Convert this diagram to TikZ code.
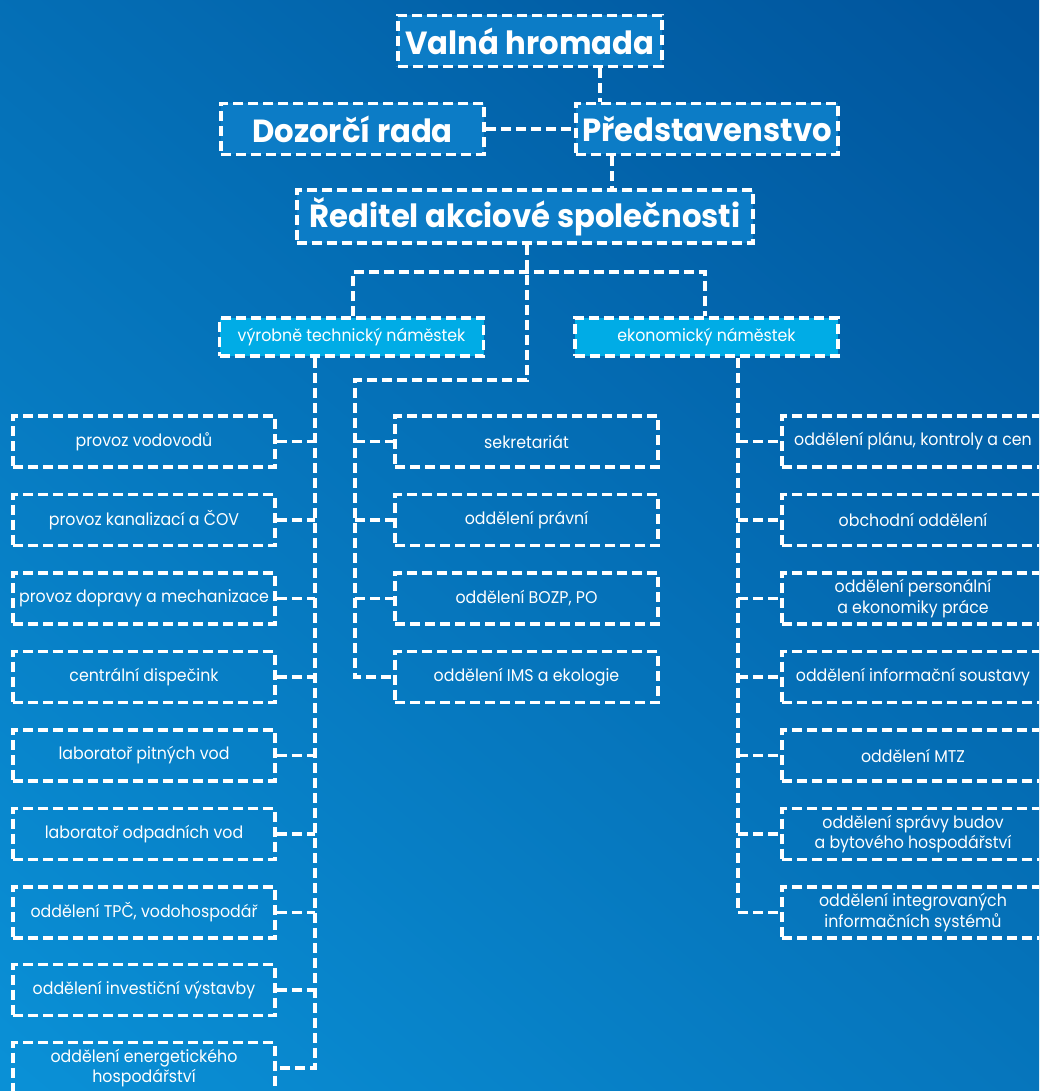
\documentclass[tikz,border=0pt]{standalone}
\usepackage{fontspec}
\setmainfont{Poppins}
\newfontfamily\smallfam{Poppins}[FakeStretch=0.93]
\newfontfamily\bigfam{Poppins}[FakeStretch=0.96]
\usetikzlibrary{calc}
\definecolor{bgtop}{RGB}{0,84,156}
\definecolor{bgbot}{RGB}{10,144,214}
\definecolor{topfill}{RGB}{12,124,198}
\definecolor{cyanfill}{RGB}{0,172,230}
\tikzset{
  dline/.style={draw=white, line width=3.8pt, dash pattern=on 10pt off 5pt},
  bigbox/.style={dline, fill=topfill, text=white, font=\bigfam\fontsize{32}{36}\selectfont\bfseries, inner sep=0pt, minimum height=51pt},
  depbox/.style={dline, fill=cyanfill, text=white, font=\smallfam\fontsize{17}{20}\selectfont, inner sep=0pt, minimum width=264pt, minimum height=38pt},
  unitbox/.style={dline, text=white, font=\smallfam\fontsize{17}{20.5}\selectfont, align=center, inner sep=0pt, minimum width=262pt, minimum height=51pt},
  conn/.style={dline}
}
\begin{document}
\begin{tikzpicture}[x=1pt,y=-1pt]
\useasboundingbox (0,0) rectangle (1039,1091);
\clip (0,0) rectangle (1039,1091);
\shade[top color=bgtop, bottom color=bgbot, shading angle=-40] (-200,-200) rectangle (1239,1291);

% top level
\node[bigbox, minimum width=264pt] (valna) at (530,41) {Valná hromada};
\node[bigbox, minimum width=263pt] (dozorci) at (352.5,129) {Dozorčí rada};
\node[bigbox, minimum width=262pt] (pred) at (707,129) {Představenstvo};
\node[bigbox, minimum width=456pt, minimum height=53pt] (reditel) at (525,216.5) {Ředitel akciové společnosti};

% deputies
\node[depbox] (vyr) at (351.5,337) {výrobně technický náměstek};
\node[depbox, minimum width=263pt] (eko) at (706.5,337) {ekonomický náměstek};

% left column
\node[unitbox] (l1) at (144,441.5) {provoz vodovodů};
\node[unitbox] (l2) at (144,520) {provoz kanalizací a ČOV};
\node[unitbox] (l3) at (144,598.5) {provoz dopravy a mechanizace};
\node[unitbox] (l4) at (144,677) {centrální dispečink};
\node[unitbox] (l5) at (144,755.5) {laboratoř pitných vod};
\node[unitbox] (l6) at (144,834) {laboratoř odpadních vod};
\node[unitbox] (l7) at (144,912.5) {oddělení TPČ, vodohospodář};
\node[unitbox] (l8) at (144,990) {oddělení investiční výstavby};
\node[unitbox] (l9) at (144,1068) {oddělení energetického\\hospodářství};

% middle column
\node[unitbox, minimum width=263pt] (m1) at (526.5,441.5) {sekretariát};
\node[unitbox, minimum width=263pt] (m2) at (526.5,520) {oddělení právní};
\node[unitbox, minimum width=263pt] (m3) at (526.5,598.5) {oddělení BOZP, PO};
\node[unitbox, minimum width=263pt] (m4) at (526.5,677) {oddělení IMS a ekologie};

% right column
\node[unitbox] (r1) at (913,441.5) {oddělení plánu, kontroly a cen};
\node[unitbox] (r2) at (913,520) {obchodní oddělení};
\node[unitbox] (r3) at (913,598.5) {oddělení personální\\a ekonomiky práce};
\node[unitbox] (r4) at (913,677) {oddělení informační soustavy};
\node[unitbox] (r5) at (913,755.5) {oddělení MTZ};
\node[unitbox] (r6) at (913,834) {oddělení správy budov\\a bytového hospodářství};
\node[unitbox] (r7) at (913,912.5) {oddělení integrovaných\\informačních systémů};

% coordinates for connectors
\coordinate (ja) at (600,0);
\coordinate (jb) at (612,0);
\coordinate (j1) at (527,272);
\coordinate (j2) at (527,380);
\coordinate (hl) at (353,272);
\coordinate (hr) at (705,272);
\coordinate (mt) at (355,380);
\coordinate (lt) at (315,0);
\coordinate (rt) at (738,0);

% top connectors
\draw[conn] (valna.south -| ja) -- (pred.north -| ja);
\draw[conn] (dozorci.east) -- (pred.west);
\draw[conn] (pred.south -| jb) -- (reditel.north -| jb);

% director to deputies and staff
\draw[conn] (reditel.south -| j1) -- (j2) -- (mt) -- (mt |- m4.west) -- (m4.west);
\draw[conn] (vyr.north -| hl) -- (hl) -- (hr) -- (eko.north -| hr);
\foreach \m in {m1,m2,m3} \draw[conn] (mt |- \m.west) -- (\m.west);

% left trunk
\draw[conn] (vyr.south -| lt) -- (lt |- l9.east) -- (l9.east);
\foreach \l in {l1,l2,l3,l4,l5,l6,l7,l8} \draw[conn] (\l.east) -- (\l.east -| lt);

% right trunk
\draw[conn] (eko.south -| rt) -- (rt |- r7.west) -- (r7.west);
\foreach \r in {r1,r2,r3,r4,r5,r6} \draw[conn] (rt |- \r.west) -- (\r.west);
\end{tikzpicture}
\end{document}
